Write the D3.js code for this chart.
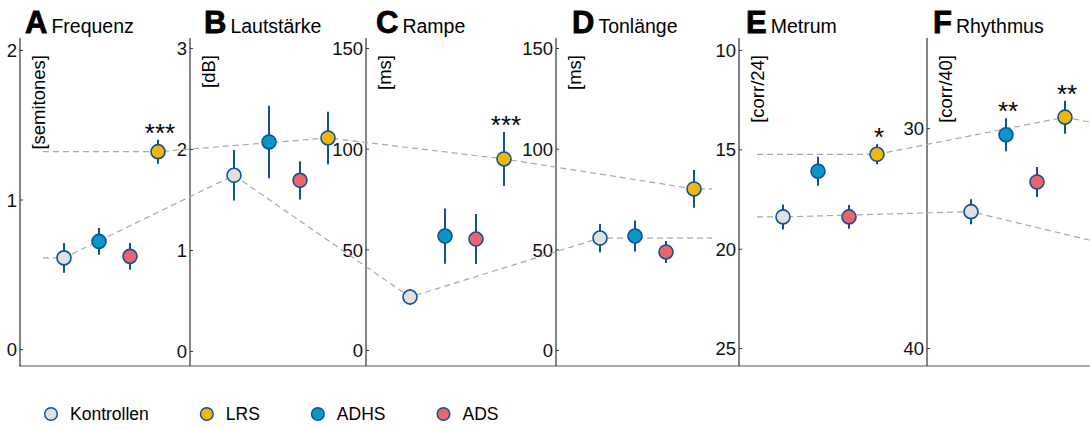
<!DOCTYPE html>
<html>
<head>
<meta charset="utf-8">
<script src="https://cdn.jsdelivr.net/npm/d3@7"></script>
<style>
  body { margin: 0; background: #fff; }
  svg { font-family: "Liberation Sans", Arial, sans-serif; }
</style>
</head>
<body>
<svg id="chart" width="1090" height="429"></svg>
<script>
// groups in x order inside each panel
const groups = ["Kontrollen", "ADHS", "ADS", "LRS"];
const legendOrder = ["Kontrollen", "LRS", "ADHS", "ADS"];

const panelLetters = ["A", "B", "C", "D", "E", "F"];
const panelTitles = ["Frequenz", "Lautstärke", "Rampe", "Tonlänge", "Metrum", "Rhythmus"];
const unitLabels = ["[semitones]", "[dB]", "[ms]", "[ms]", "[corr/24]", "[corr/40]"];
const tickValues = [[0, 1, 2], [0, 1, 2, 3], [0, 50, 100, 150], [0, 50, 100, 150], [10, 15, 20, 25], [30, 40]];
// axis limits: [bottom, top]  (E and F are reversed)
const yLimits = [[-0.113, 2.08], [-0.149, 3.1], [-7.95, 154.97], [-7.95, 154.97], [25.9, 9.4], [40.82, 25.9]];

// means and error bars per panel (A..F)
const kontrollen    = [0.61, 1.74, 26.3, 55.6, 18.4, 33.8];
const kontrollenErr = [0.10, 0.25, 4.0, 7.0, 0.63, 0.57];
const adhs          = [0.72, 2.07, 56.6, 56.6, 16.1, 30.3];
const adhsErr       = [0.09, 0.36, 13.7, 7.7, 0.73, 0.75];
const ads           = [0.62, 1.69, 55.1, 48.7, 18.4, 32.45];
const adsErr        = [0.09, 0.19, 12.4, 5.5, 0.60, 0.68];
const lrs           = [1.32, 2.11, 94.9, 80.0, 15.25, 29.5];
const lrsErr        = [0.08, 0.26, 13.4, 9.4, 0.50, 0.75];

// significance marks
const stars = [
  { panel: 0, group: "LRS", label: "***" },
  { panel: 2, group: "LRS", label: "***" },
  { panel: 4, group: "LRS", label: "*" },
  { panel: 5, group: "ADHS", label: "**" },
  { panel: 5, group: "LRS", label: "**" }
];

// dashed trend lines, two runs of panels; F continues past the right edge
const trendGroups = ["Kontrollen", "LRS"];
const trendRuns = [[0, 1, 2, 3], [4, 5]];
const trendTailF = { Kontrollen: 35.1, LRS: 29.73 };

const values = { Kontrollen: kontrollen, ADHS: adhs, ADS: ads, LRS: lrs };
const errors = { Kontrollen: kontrollenErr, ADHS: adhsErr, ADS: adsErr, LRS: lrsErr };
const fills = { Kontrollen: "#e0e0e0", LRS: "#f2b705", ADHS: "#0797c9", ADS: "#ef636b" };
const edge = "#0d519c";

// layout
const W = 1090, plotTop = 38, plotBottom = 366;
const axisX = [20, 190, 366, 556, 739, 927];
const titleDx = [5, 14, 10, 16, 7, 6];
const groupDx = d3.scaleOrdinal().domain(groups).range([44, 79, 110, 138]);

const svg = d3.select("#chart");

const yScales = yLimits.map(l => d3.scaleLinear().domain(l).range([plotBottom, plotTop]));

// baseline across all panels
svg.append("line")
  .attr("x1", axisX[0] - 1).attr("x2", W)
  .attr("y1", plotBottom).attr("y2", plotBottom)
  .attr("stroke", "#555").attr("stroke-width", 1.2);

panelLetters.forEach((letter, i) => {
  const x0 = axisX[i];
  const y = yScales[i];
  const g = svg.append("g").attr("transform", `translate(${x0},0)`);

  const axis = d3.axisRight(y).tickValues(tickValues[i]).tickSize(3).tickFormat(d3.format("d"));
  const ag = g.append("g").call(axis);
  ag.select(".domain").attr("d", `M0,${plotTop}V${plotBottom}`).attr("stroke", "#333").attr("stroke-width", 1.2);
  ag.selectAll(".tick line").attr("stroke", "#333");
  ag.selectAll(".tick text")
    .attr("x", -3).attr("dy", "0.36em")
    .attr("text-anchor", "end")
    .attr("font-size", 18.5).attr("fill", "#111");

  // title
  const tt = g.append("text").attr("x", titleDx[i]).attr("y", 33);
  tt.append("tspan").attr("font-size", 31).attr("font-weight", "bold")
    .attr("stroke", "#000").attr("stroke-width", 0.8).text(letter);
  tt.append("tspan").attr("font-size", 19.5).attr("dx", 4).text(panelTitles[i]);

  // unit label
  g.append("text")
    .attr("transform", `translate(25,55) rotate(-90)`)
    .attr("text-anchor", "end")
    .attr("font-size", 18.5)
    .text(unitLabels[i]);
});

// trend lines
const line = d3.line().x(d => d[0]).y(d => d[1]);
trendGroups.forEach(grp => {
  trendRuns.forEach((run, r) => {
    const pts = run.map(p => [axisX[p] + groupDx(grp), yScales[p](values[grp][p])]);
    const first = run[0], last = run[run.length - 1];
    pts.unshift([axisX[first] + (r === 0 ? 23 : 18), pts[0][1]]);
    if (r === 0) {
      pts.push([axisX[last] + 156, pts[pts.length - 1][1]]);
    } else {
      pts.push([W, yScales[last](trendTailF[grp])]);
    }
    svg.append("path")
      .attr("d", line(pts))
      .attr("fill", "none")
      .attr("stroke", "#a8a8a8")
      .attr("stroke-width", 1.2)
      .attr("stroke-dasharray", "6,4");
  });
});

// points with error bars
panelLetters.forEach((letter, i) => {
  const y = yScales[i];
  groups.forEach(grp => {
    const cx = axisX[i] + groupDx(grp);
    const v = values[grp][i], e = errors[grp][i];
    svg.append("line")
      .attr("x1", cx).attr("x2", cx)
      .attr("y1", y(v - e)).attr("y2", y(v + e))
      .attr("stroke", edge).attr("stroke-width", 2);
    svg.append("circle")
      .attr("cx", cx).attr("cy", y(v)).attr("r", 7)
      .attr("fill", fills[grp])
      .attr("stroke", edge).attr("stroke-width", 1.6);
  });
});

// significance stars
stars.forEach(s => {
  const y = yScales[s.panel];
  const v = values[s.group][s.panel], e = errors[s.group][s.panel];
  const yTop = Math.min(y(v - e), y(v + e));
  svg.append("text")
    .attr("x", axisX[s.panel] + groupDx(s.group) + 2)
    .attr("y", yTop + 2)
    .attr("text-anchor", "middle")
    .attr("font-size", 26)
    .text(s.label);
});

// legend
const lg = svg.append("g").attr("transform", "translate(51,414)");
let lx = 0;
legendOrder.forEach(grp => {
  const item = lg.append("g").attr("transform", `translate(${lx},0)`);
  item.append("circle").attr("r", 6.3)
    .attr("fill", fills[grp]).attr("stroke", edge).attr("stroke-width", 1.5);
  const t = item.append("text").attr("x", 19).attr("dy", "0.36em")
    .attr("font-size", 17.5).text(grp);
  lx += 19 + t.node().getComputedTextLength() + 58;
});
</script>
</body>
</html>
